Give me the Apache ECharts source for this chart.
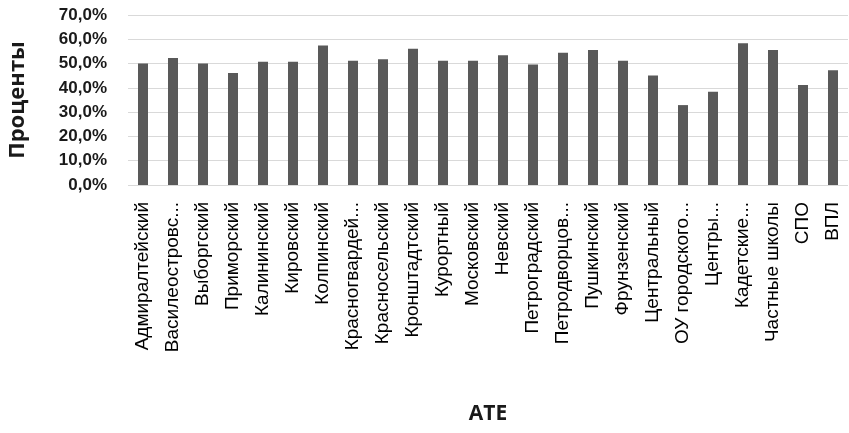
<!DOCTYPE html>
<html>
<head>
<meta charset="utf-8">
<script src="https://cdn.jsdelivr.net/npm/echarts@6/dist/echarts.min.js"></script>
<style>html,body{margin:0;padding:0;background:#fff;}#chart{width:849px;height:433px;}</style>
</head>
<body>
<div id="chart"></div>
<script>
const categories = ["Адмиралтейский","Василеостровс...","Выборгский","Приморский","Калининский","Кировский","Колпинский","Красногвардей...","Красносельский","Кронштадтский","Курортный","Московский","Невский","Петроградский","Петродворцов...","Пушкинский","Фрунзенский","Центральный","ОУ городского...","Центры...","Кадетские...","Частные школы","СПО","ВПЛ"];
const values = [50.0,52.3,50.0,46.1,50.7,50.7,57.4,51.2,51.8,56.1,51.2,51.2,53.4,49.6,54.5,55.6,51.2,45.1,32.9,38.4,58.4,55.6,41.2,47.3];
const yTicks = [0,10,20,30,40,50,60,70];
const yTitle = "Проценты";
const xTitle = "ATE";

const chart = echarts.init(document.getElementById('chart'));
chart.setOption({
  animation: false,
  backgroundColor: '#ffffff',
  grid: {left: 128, right: 1, top: 15, bottom: 248, containLabel: false, outerBoundsMode: 'none'},
  xAxis: {
    type: 'category',
    data: categories,
    name: xTitle,
    nameLocation: 'middle',
    nameGap: 219,
    nameTextStyle: {fontFamily: 'Open Sans', fontWeight: 'bold', fontSize: 21, color: '#1a1a1a'},
    axisLine: {show: false},
    axisTick: {show: false},
    axisLabel: {rotate: 90, margin: 17, fontFamily: 'Liberation Sans', fontSize: 19, color: '#000', interval: 0, overflow: 'none'}
  },
  yAxis: {
    type: 'value',
    min: yTicks[0],
    max: yTicks[yTicks.length - 1],
    interval: 10,
    name: yTitle,
    nameLocation: 'middle',
    nameGap: 99,
    nameRotate: 90,
    nameTextStyle: {fontFamily: 'Open Sans', fontWeight: 'bold', fontSize: 22, color: '#1a1a1a'},
    axisLine: {show: false},
    axisTick: {show: false},
    splitLine: {lineStyle: {color: '#d9d9d9', width: 1}},
    axisLabel: {margin: 21, fontFamily: 'Liberation Sans', fontWeight: 'bold', fontSize: 17, color: '#1a1a1a',
      formatter: v => v.toFixed(1).replace('.', ',') + '%'}
  },
  series: [{
    type: 'bar',
    data: values,
    barWidth: 10,
    itemStyle: {color: '#595959'}
  }]
});
</script>
</body>
</html>
